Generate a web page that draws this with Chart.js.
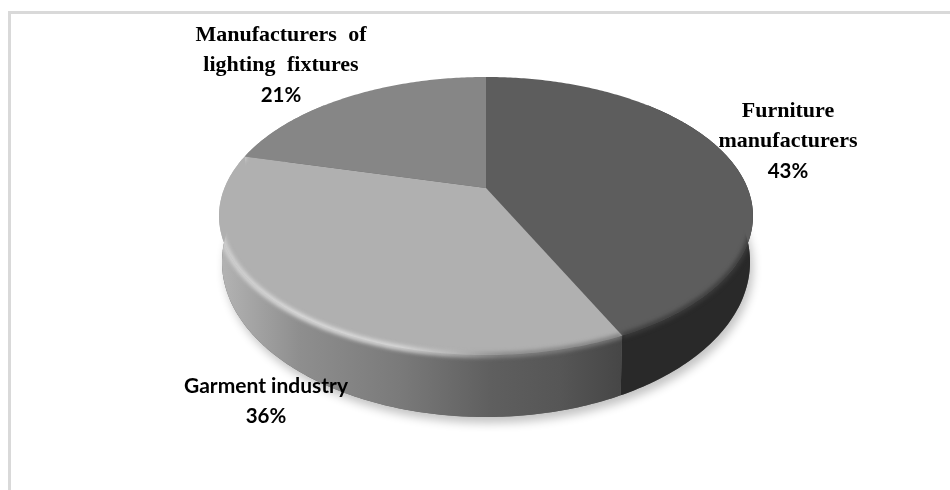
<!DOCTYPE html>
<html>
<head>
<meta charset="utf-8">
<script src="https://cdn.jsdelivr.net/npm/chart.js@4/dist/chart.umd.js"></script>
<style>
  html,body{margin:0;padding:0;background:#fff;}
  #wrap{position:relative;width:950px;height:490px;overflow:hidden;}
  #frame{position:absolute;left:8px;top:11px;width:950px;height:490px;border-left:3px solid #d9d9d9;border-top:3px solid #d9d9d9;}
  canvas{position:absolute;left:0;top:0;}
</style>
</head>
<body>
<div id="wrap">
  <div id="frame"></div>
  <canvas id="myChart" width="950" height="490"></canvas>
</div>
<script>
const categories=["Furniture manufacturers","Garment industry","Manufacturers of lighting fixtures"]
const shares=[43,36,21]
const labelLines=[["Furniture","manufacturers"],["Garment industry"],["Manufacturers of","lighting fixtures"]]
const labelCenters=[[788,109],[266,384],[281,33]]
const sliceColors=["#5d5d5d","#b0b0b0","#868686"]
const lineGap=30

// top and bottom plane of the disc, seen in perspective from above
const topPlane={hx:486,hy:188,a:261.5,b:133.4,k:0.2014}
const lowPlane={hx:486,hy:230.8,a:258.6,b:148.7,k:0.2014}

function project(plane,angle){
  const u=Math.cos(angle),v=Math.sin(angle),w=1-plane.k*v
  return [plane.hx+plane.a*u/w,plane.hy+plane.b*v/w]
}

function trace(ctx,plane,from,to,first){
  const steps=Math.max(2,Math.ceil(Math.abs(to-from)*80))
  for(let i=0;i<=steps;i++){
    const p=project(plane,from+(to-from)*i/steps)
    if(i==0&&first) ctx.moveTo(p[0],p[1])
    else ctx.lineTo(p[0],p[1])
  }
}

function sectorPath(ctx,from,to){
  ctx.moveTo(topPlane.hx,topPlane.hy)
  trace(ctx,topPlane,from,to,false)
  ctx.closePath()
}

function wallPath(ctx,from,to){
  trace(ctx,lowPlane,from,to,true)
  trace(ctx,topPlane,to,from,false)
  ctx.closePath()
}

// the wall only shows on the near half, keep a margin for the sides
function wallRange(arc){
  const lo=Math.max(arc.startAngle,-Math.PI/4)
  const hi=Math.min(arc.endAngle,Math.PI*5/4)
  return [lo,hi]
}

function horizontalGradient(ctx,stops){
  const g=ctx.createLinearGradient(219,0,752,0)
  stops.forEach(s=>g.addColorStop((s[0]-219)/533,s[1]))
  return g
}

const disc3d={
  id:"disc3d",
  beforeDatasetsDraw(chart){
    const ctx=chart.ctx
    const arcs=chart.getDatasetMeta(0).data
    ctx.save()

    // soft shadow under the disc
    ctx.save()
    ctx.shadowColor="rgba(0,0,0,0.24)"
    ctx.shadowBlur=10
    ctx.shadowOffsetX=3
    ctx.shadowOffsetY=6
    ctx.fillStyle="#666"
    ctx.beginPath()
    trace(ctx,lowPlane,0,Math.PI*2,true)
    ctx.closePath()
    ctx.fill()
    ctx.restore()

    const wallFills=[
      "#292929",
      horizontalGradient(ctx,[[219,"#b4b4b4"],[300,"#8e8e8e"],[400,"#7a7a7a"],[490,"#5f5f5f"],[560,"#565656"],[622,"#464646"],[752,"#464646"]]),
      "#868686"
    ]
    arcs.forEach((arc,i)=>{
      const r=wallRange(arc)
      if(r[1]<=r[0]) return
      ctx.fillStyle=wallFills[i]
      ctx.beginPath()
      wallPath(ctx,r[0],r[1])
      ctx.fill()
    })

    arcs.forEach((arc,i)=>{
      ctx.fillStyle=sliceColors[i]
      ctx.beginPath()
      sectorPath(ctx,arc.startAngle,arc.endAngle)
      ctx.fill()
    })

    // bevel along the rim, clipped to each slice and its wall
    const bevels=[
      "#3c3c3c",
      horizontalGradient(ctx,[[219,"#d4d4d4"],[300,"#e2e2e2"],[400,"#dedede"],[450,"#bcbcbc"],[500,"#888888"],[622,"#7a7a7a"]]),
      null
    ]
    arcs.forEach((arc,i)=>{
      if(!bevels[i]) return
      const from=i==0?0:arc.startAngle
      ctx.save()
      ctx.beginPath()
      sectorPath(ctx,arc.startAngle,arc.endAngle)
      const r=wallRange(arc)
      wallPath(ctx,r[0],r[1])
      ctx.clip()
      ctx.filter="blur(2px)"
      ctx.strokeStyle=bevels[i]
      ctx.lineWidth=5
      ctx.beginPath()
      trace(ctx,topPlane,from,arc.endAngle,true)
      ctx.stroke()
      ctx.restore()
    })

    ctx.restore()
    return false
  },
  // skipping the default arcs also skips afterDatasetsDraw, so labels go here
  afterDraw(chart){
    const ctx=chart.ctx
    ctx.save()
    ctx.fillStyle="#000"
    ctx.textAlign="center"
    ctx.textBaseline="middle"
    categories.forEach((name,i)=>{
      const c=labelCenters[i]
      const lines=labelLines[i]
      const garment=i==1
      ctx.font=garment?"bold 21px Lato":"bold 22px 'Liberation Serif'"
      ctx.wordSpacing=garment?"0px":"6px"
      lines.forEach((line,j)=>ctx.fillText(line,c[0],c[1]+2+j*lineGap))
      ctx.font="bold 20.5px Lato"
      ctx.wordSpacing="0px"
      ctx.fillText(shares[i]+"%",c[0],c[1]+2+lines.length*lineGap)
    })
    ctx.restore()
  }
}

const chart=new Chart(document.getElementById("myChart").getContext("2d"),{
  type:"pie",
  data:{
    labels:categories,
    datasets:[{data:shares,backgroundColor:sliceColors,borderWidth:0}]
  },
  options:{
    responsive:false,
    animation:false,
    plugins:{legend:{display:false},tooltip:{enabled:false}}
  },
  plugins:[disc3d]
})
</script>
</body>
</html>
